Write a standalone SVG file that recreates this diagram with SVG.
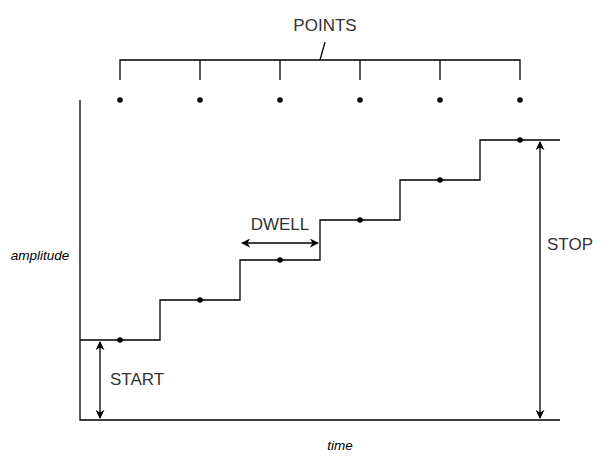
<svg xmlns="http://www.w3.org/2000/svg" width="612" height="472" viewBox="0 0 612 472">
<defs>
<marker id="ah" viewBox="0 0 10 10" refX="9" refY="5" markerWidth="9" markerHeight="9" markerUnits="userSpaceOnUse" orient="auto-start-reverse">
<path d="M0,0 L10,5 L0,10 L3,5 Z" fill="#000"/>
</marker>
<style>
.ln{fill:none;stroke:#000;stroke-width:1.3}
.dot{fill:#000}
.lbl{font-family:"Liberation Sans",Arial,sans-serif;font-size:17px;fill:#333}
.ax{font-family:"Liberation Sans",Arial,sans-serif;font-size:13.5px;font-style:italic;fill:#000}
</style>
</defs>
<rect width="612" height="472" fill="#fff"/>
<g id="axes">
<path class="ln" d="M80,100 V420 H560"/>
</g>
<g id="staircase">
<path class="ln" d="M80,340 H160 V300 H240 V260 H320 V220 H400 V180 H480 V140 H560"/>
<circle class="dot" cx="120" cy="340" r="2.8"/>
<circle class="dot" cx="200" cy="300" r="2.8"/>
<circle class="dot" cx="280" cy="260" r="2.8"/>
<circle class="dot" cx="360" cy="220" r="2.8"/>
<circle class="dot" cx="440" cy="180" r="2.8"/>
<circle class="dot" cx="520" cy="140" r="2.8"/>
</g>
<g id="points">
<circle class="dot" cx="120" cy="100" r="2.8"/>
<circle class="dot" cx="200" cy="100" r="2.8"/>
<circle class="dot" cx="280" cy="100" r="2.8"/>
<circle class="dot" cx="360" cy="100" r="2.8"/>
<circle class="dot" cx="440" cy="100" r="2.8"/>
<circle class="dot" cx="520" cy="100" r="2.8"/>
<path class="ln" d="M120,80 V60 H520 V80 M200,60 V80 M280,60 V80 M360,60 V80 M440,60 V80 M320,60 L325,42"/>
<text class="lbl" x="325" y="31" text-anchor="middle">POINTS</text>
</g>
<g id="connectors">
<line class="ln" x1="100" y1="342" x2="100" y2="418" marker-start="url(#ah)" marker-end="url(#ah)"/>
<line class="ln" x1="242" y1="243" x2="318" y2="243" marker-start="url(#ah)" marker-end="url(#ah)"/>
<line class="ln" x1="540" y1="142" x2="540" y2="418" marker-start="url(#ah)" marker-end="url(#ah)"/>
</g>
<g id="labels">
<text class="lbl" x="110" y="385">START</text>
<text class="lbl" x="280" y="230" text-anchor="middle">DWELL</text>
<text class="lbl" x="547" y="250">STOP</text>
<text class="ax" x="40" y="260" text-anchor="middle">amplitude</text>
<text class="ax" x="340" y="450" text-anchor="middle">time</text>
</g>
</svg>
